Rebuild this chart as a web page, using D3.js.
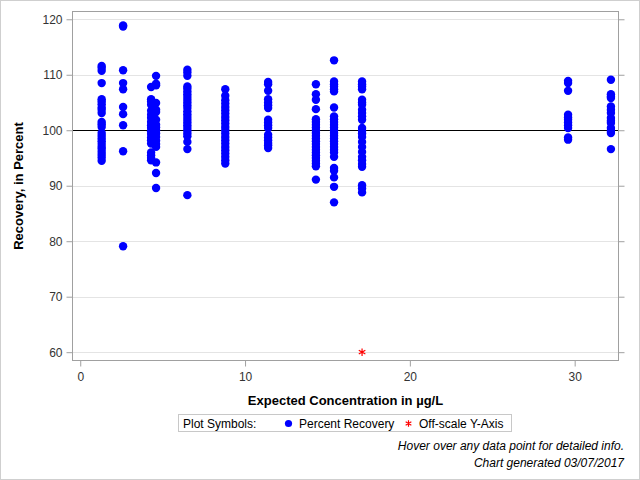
<!DOCTYPE html>
<html><head><meta charset="utf-8">
<script src="https://cdn.jsdelivr.net/npm/d3@7"></script>
<style>
html,body{margin:0;padding:0;background:#fff;}
svg{display:block;font-family:"Liberation Sans",Arial,sans-serif;}
</style></head>
<body><svg id="c" width="640" height="480"></svg>
<script>
// ---- data ----
const concentrations = [1.3, 2.6, 4.3, 4.6, 6.5, 8.8, 11.4, 14.3, 15.4, 17.1, 29.6, 32.2];
const rec_1_3 = [111.6,111.2,110.7,108.5,105.6,105.2,104.7,104.1,103.7,103.1,101.5,101.1,100.6,99.5,99.0,98.5,98.0,97.5,97.0,96.6,96.1,95.6,95.1,94.5];
const rec_2_6 = [118.9,118.7,110.8,108.5,107.4,104.2,102.9,100.9,96.2,79.1];
const rec_4_3 = [107.8,105.6,105.2,104.6,103.5,102.8,102.2,101.5,100.9,100.4,99.8,99.3,98.7,98.2,97.6,96.0,95.5,95.0,94.6];
const rec_4_6 = [109.8,108.4,108.1,104.9,103.7,103.3,101.9,101.0,100.5,100.0,99.4,98.8,98.1,97.5,97.0,94.2,92.3,89.6];
const rec_6_5 = [110.9,110.4,109.8,107.9,107.5,107.0,106.5,106.0,105.5,105.0,104.5,104.0,103.4,102.9,102.4,101.9,101.4,100.9,100.4,99.9,99.4,98.9,97.9,96.6,88.3];
const rec_8_8 = [107.4,106.2,105.4,104.8,104.2,103.6,103.0,102.4,101.8,101.2,100.6,100.0,99.4,98.8,98.2,97.6,97.0,96.4,95.8,95.2,94.6,94.0];
const rec_11_4 = [108.7,108.3,107.1,105.6,105.0,104.5,104.0,101.9,101.4,100.9,100.4,99.2,98.7,98.2,97.7,97.3,96.8];
const rec_14_3 = [108.3,106.5,105.5,103.8,102.0,101.5,101.0,100.5,100.0,99.5,99.0,98.5,98.0,97.5,97.0,96.5,96.0,95.5,95.0,94.5,94.0,93.5,91.1];
const rec_15_4 = [112.6,108.8,108.3,107.9,107.4,107.0,104.1,102.5,102.0,101.5,101.0,100.5,100.0,99.5,99.0,98.5,98.0,97.5,97.0,96.5,96.0,95.2,93.2,92.7,91.5,89.8,87.0];
const rec_17_1 = [108.8,108.3,107.9,107.4,105.5,105.0,104.6,103.7,103.1,102.5,101.9,100.4,99.9,99.4,98.8,97.9,97.0,96.1,95.2,94.6,93.9,93.4,90.1,89.5,88.8];
const rec_29_6 = [108.9,108.5,107.1,102.8,102.3,101.9,101.4,100.9,100.4,98.7,98.3];
const rec_32_2 = [109.1,106.5,106.1,105.8,104.3,103.7,103.1,102.2,101.7,101.3,100.4,99.9,99.5,96.6];
const offscaleX = [17.1];
const offscaleY = [60];
const xTicks = [0, 10, 20, 30];
const yTicks = [60, 70, 80, 90, 100, 110, 120];
const referenceY = 100;

const groups = [rec_1_3, rec_2_6, rec_4_3, rec_4_6, rec_6_5, rec_8_8, rec_11_4, rec_14_3, rec_15_4, rec_17_1, rec_29_6, rec_32_2];
const points = [];
groups.forEach((g, i) => g.forEach(v => points.push({x: concentrations[i], y: v})));

// ---- drawing ----
const svg = d3.select("#c");
const L = 72.5, R = 618.5, T = 11.5, B = 360.5;
const x = d3.scaleLinear().domain([-0.47, 32.66]).range([L, R]);
const y = d3.scaleLinear().domain([58.5, 121.4]).range([B, T]);

// outer border
svg.append("rect").attr("x", 0.5).attr("y", 0.5).attr("width", 639).attr("height", 479)
  .attr("fill", "#fff").attr("stroke", "#cfcfcf");

// gridlines
svg.append("g").selectAll("line").data(yTicks).join("line")
  .attr("x1", L).attr("x2", R)
  .attr("y1", d => Math.round(y(d)) + 0.5).attr("y2", d => Math.round(y(d)) + 0.5)
  .attr("stroke", "#e4e4e4");

// reference line
svg.append("line").attr("x1", L).attr("x2", R)
  .attr("y1", Math.round(y(referenceY)) + 0.5).attr("y2", Math.round(y(referenceY)) + 0.5)
  .attr("stroke", "#000").attr("stroke-width", 1);

// axes
function styleAxis(g) {
  g.select(".domain").remove();
  g.selectAll(".tick line").attr("stroke", "#a0a0a0");
  g.selectAll(".tick text").attr("fill", "#333").style("font-size", "12px")
    .style("font-family", '"Liberation Sans",Arial,sans-serif');
}
svg.append("g").attr("transform", `translate(${L},0)`)
  .call(d3.axisLeft(y).tickValues(yTicks).tickSize(6).tickPadding(4).tickFormat(d3.format("d")))
  .call(styleAxis);
svg.append("g").attr("transform", `translate(${R},0)`)
  .call(d3.axisRight(y).tickValues(yTicks).tickSize(6).tickFormat(""))
  .call(styleAxis);
svg.append("g").attr("transform", `translate(0,${B})`)
  .call(d3.axisBottom(x).tickValues(xTicks).tickSize(6).tickPadding(6).tickFormat(d3.format("d")))
  .call(styleAxis);

// frame
svg.append("rect").attr("x", L).attr("y", T).attr("width", R - L).attr("height", B - T)
  .attr("fill", "none").attr("stroke", "#a0a0a0");

// points
svg.append("g").selectAll("circle").data(points).join("circle")
  .attr("cx", d => x(d.x)).attr("cy", d => y(d.y)).attr("r", 4.2)
  .attr("fill", "#0000ff");

// off-scale asterisks
const star = d3.symbol().type(d3.symbolAsterisk).size(40);
svg.append("g").selectAll("path").data(offscaleX.map((v, i) => ({x: v, y: offscaleY[i]}))).join("path")
  .attr("d", star).attr("transform", d => `translate(${x(d.x)},${y(d.y)})`)
  .attr("stroke", "#ff0000").attr("stroke-width", 1.2).attr("fill", "none");

// axis titles
svg.append("text").attr("x", (L + R) / 2).attr("y", 405).attr("text-anchor", "middle")
  .style("font-size", "13px").style("font-weight", "bold").attr("fill", "#000")
  .text("Expected Concentration in µg/L");
svg.append("text").attr("transform", `translate(23,${(T + B) / 2}) rotate(-90)`).attr("text-anchor", "middle")
  .style("font-size", "13px").style("font-weight", "bold").attr("fill", "#000")
  .text("Recovery, in Percent");

// legend
const lg = svg.append("g");
lg.append("rect").attr("x", 178.5).attr("y", 414.5).attr("width", 333).attr("height", 17)
  .attr("fill", "#fff").attr("stroke", "#c8c8c8");
lg.append("text").attr("x", 183).attr("y", 427.5).style("font-size", "12px").attr("fill", "#000").text("Plot Symbols:");
lg.append("circle").attr("cx", 288.5).attr("cy", 423.5).attr("r", 3.6).attr("fill", "#0000ff");
lg.append("text").attr("x", 299).attr("y", 427.5).style("font-size", "12px").attr("fill", "#000").text("Percent Recovery");
lg.append("path").attr("d", d3.symbol().type(d3.symbolAsterisk).size(30)).attr("transform", "translate(408.5,423.5)")
  .attr("stroke", "#ff0000").attr("stroke-width", 1.2).attr("fill", "none");
lg.append("text").attr("x", 419).attr("y", 427.5).style("font-size", "12px").attr("fill", "#000").text("Off-scale Y-Axis");

// footnotes
svg.append("text").attr("x", 624).attr("y", 450).attr("text-anchor", "end")
  .style("font-size", "12px").style("font-style", "italic").attr("fill", "#000")
  .text("Hover over any data point for detailed info.");
svg.append("text").attr("x", 624).attr("y", 467).attr("text-anchor", "end")
  .style("font-size", "12px").style("font-style", "italic").attr("fill", "#000")
  .text("Chart generated 03/07/2017");
</script></body></html>
